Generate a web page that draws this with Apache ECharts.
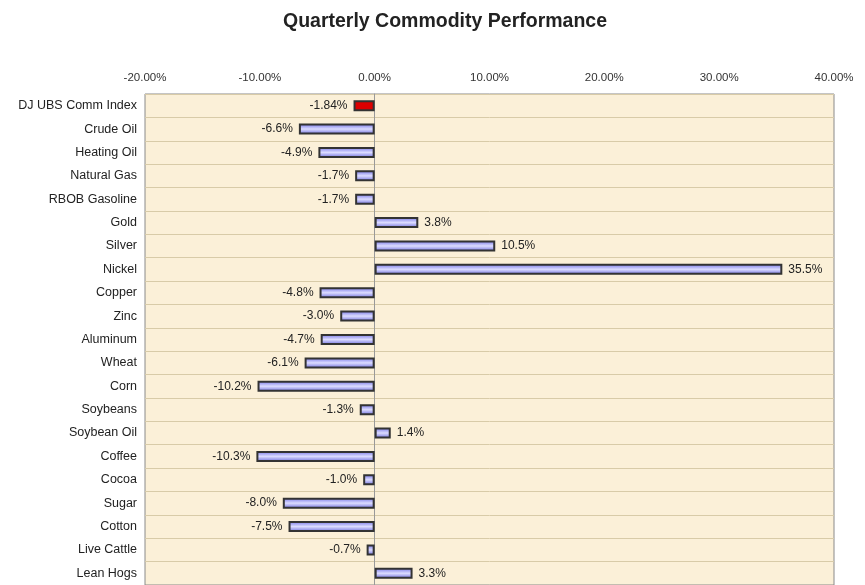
<!DOCTYPE html>
<html>
<head>
	<meta charset="utf-8">
	<title>Quarterly Commodity Performance</title>
	<script src="https://cdn.jsdelivr.net/npm/echarts@6/dist/echarts.min.js"></script>
	<style type="text/css">
		body { margin: 0; background: #fff; }
		#chart { width: 865px; height: 585px; }
	</style>
</head>
<body>
<div id="chart"></div>
<script type="text/javascript">

	// 数据
	var categories = ['DJ UBS Comm Index', 'Crude Oil', 'Heating Oil', 'Natural Gas', 'RBOB Gasoline',
		'Gold', 'Silver', 'Nickel', 'Copper', 'Zinc', 'Aluminum', 'Wheat', 'Corn', 'Soybeans',
		'Soybean Oil', 'Coffee', 'Cocoa', 'Sugar', 'Cotton', 'Live Cattle', 'Lean Hogs'];
	var values = [-1.84, -6.6, -4.9, -1.7, -1.7, 3.8, 10.5, 35.5, -4.8, -3.0, -4.7, -6.1, -10.2, -1.3,
		1.4, -10.3, -1.0, -8.0, -7.5, -0.7, 3.3];
	var xTicks = { min: -20, max: 40, step: 10 };

	var blueBar = new echarts.graphic.LinearGradient(0, 0, 0, 1, [
		{ offset: 0, color: '#6f6fe6' },
		{ offset: 0.5, color: '#dcdcff' },
		{ offset: 1, color: '#6868dc' }
	]);

	var barData = values.map(function(v, i) {
		return {
			value: v,
			itemStyle: i === 0 ? { color: '#dd0000' } : { color: blueBar },
			label: { position: v < 0 ? 'left' : 'right' }
		};
	});

	var myChart = echarts.init(document.getElementById('chart'));
	var option = {
		backgroundColor: '#fff',
		title: {
			text: 'Quarterly Commodity Performance',
			left: 440,
			textAlign: 'center',
			top: 7,
			textStyle: { fontFamily: 'Liberation Sans, Arial', fontSize: 19.5, fontWeight: 'bold', color: '#222' }
		},
		grid: {
			left: 145,
			top: 94,
			width: 689,
			height: 492,
			show: true,
			backgroundColor: '#fbf0d8',
			borderColor: '#8a8a8a',
			borderWidth: 1
		},
		xAxis: {
			type: 'value',
			position: 'top',
			min: xTicks.min,
			max: xTicks.max,
			interval: xTicks.step,
			axisLine: { show: false },
			axisTick: { show: false },
			splitLine: { show: false },
			axisLabel: {
				fontFamily: 'Liberation Sans, Arial',
				fontSize: 11.5,
				color: '#333',
				margin: 10,
				formatter: function(v) { return v.toFixed(2) + '%'; }
			}
		},
		yAxis: {
			type: 'category',
			inverse: true,
			data: categories,
			axisLine: { show: true, onZero: true, lineStyle: { color: '#999', width: 1 } },
			axisTick: { show: false },
			splitLine: { show: true, lineStyle: { color: '#d8cba8', width: 1 } },
			axisLabel: {
				fontFamily: 'Liberation Sans, Arial',
				fontSize: 12.5,
				color: '#222',
				margin: 8
			}
		},
		series: [{
			type: 'bar',
			data: barData,
			barWidth: 11,
			itemStyle: { borderColor: '#333', borderWidth: 2 },
			label: {
				show: true,
				distance: 6,
				fontFamily: 'Liberation Sans, Arial',
				fontSize: 12,
				color: '#222',
				formatter: function(p) {
					return p.dataIndex === 0 ? p.value.toFixed(2) + '%' : p.value.toFixed(1) + '%';
				}
			}
		}]
	};
	myChart.setOption(option);

</script>
</body>
</html>
